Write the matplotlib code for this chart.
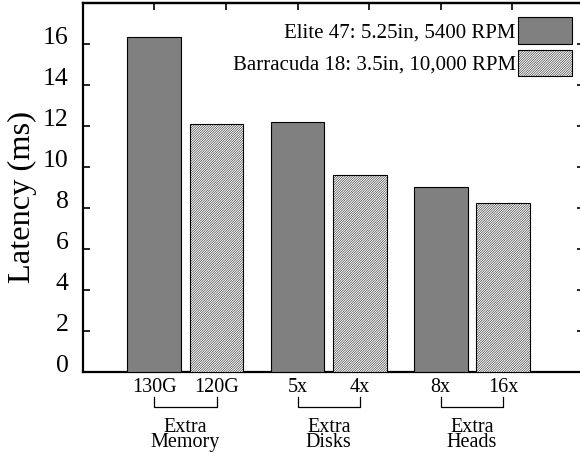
import numpy as np
import matplotlib
matplotlib.use("Agg")
import matplotlib.pyplot as plt
from matplotlib.patches import Patch
import matplotlib.transforms as mtransforms

plt.rcParams['font.family'] = ['Liberation Serif', 'DejaVu Serif']
plt.rcParams['hatch.linewidth'] = 0.35
plt.rcParams['hatch.color'] = '#8c8c8c'

# data
groups = ['Extra\nMemory', 'Extra\nDisks', 'Extra\nHeads']
elite_labels = ['130G', '5x', '8x']
cuda_labels = ['120G', '4x', '16x']
elite = [16.35, 12.2, 9.0]
cuda = [12.1, 9.6, 8.25]
series_names = ['Elite 47: 5.25in, 5400 RPM', 'Barracuda 18: 3.5in, 10,000 RPM']

HATCH = '/' * 14

fig = plt.figure(figsize=(5.8, 4.53), dpi=100)
ax = fig.add_axes([82.7/580, 81/453, 501.3/580, 369/453])

gap = 2.0     # distance between groups
off = 0.87    # second bar offset
w = 0.75
xe = np.arange(len(groups)) * gap
xc = xe + off

ax.bar(xe, elite, w, color='#808080', edgecolor='black', linewidth=0.8, zorder=3)
ax.bar(xc, cuda, w, color='white', edgecolor='black', linewidth=0.8,
       hatch=HATCH, zorder=3)

ax.set_xlim(-1, 6)
ax.set_ylim(0, 18)
ax.set_yticks(np.arange(0, 17, 2))

ticks = np.concatenate([xe, xc])
ax.set_xticks(ticks)
ax.set_xticklabels(elite_labels + cuda_labels, fontsize=14.5)
ax.tick_params(axis='x', bottom=False, length=0, pad=4)
ax.tick_params(axis='y', direction='in', length=5, width=1.2, right=True,
               labelsize=18.5, pad=10)
for t in ax.get_yticklabels():
    t.set_va('baseline')

top = ax.secondary_xaxis('top')
top.set_xticks(np.arange(0, 6))
top.tick_params(direction='in', length=5, width=1.2, labeltop=False)
top.spines['top'].set_linewidth(1.6)

for s in ax.spines.values():
    s.set_linewidth(1.6)

ax.set_ylabel('Latency (ms)', fontsize=23.4)
ax.yaxis.set_label_coords(-0.091, 0.474)

# brackets and group names below the tick labels
trans = mtransforms.blended_transform_factory(ax.transData, ax.transAxes)
for a, b, name in zip(xe, xc, groups):
    ax.plot([a, a, b, b], [-0.068, -0.0957, -0.0957, -0.068], color='black',
            lw=0.9, transform=trans, clip_on=False)
    ax.text((a + b) / 2, -0.2033, name, ha='center', va='baseline',
            multialignment='center', linespacing=0.75, fontsize=14.5,
            transform=trans)

handles = [Patch(facecolor='#808080', edgecolor='black', linewidth=0.8),
           Patch(facecolor='white', edgecolor='black', linewidth=0.8, hatch=HATCH)]
ax.legend(handles, series_names, loc='upper right', bbox_to_anchor=(0.9755, 0.9612),
          frameon=False, markerfirst=False, fontsize=15, handlelength=2.6,
          handleheight=1.58, handletextpad=0.08, labelspacing=0.29,
          borderpad=0, borderaxespad=0)

fig.savefig('out.png', dpi=100)
